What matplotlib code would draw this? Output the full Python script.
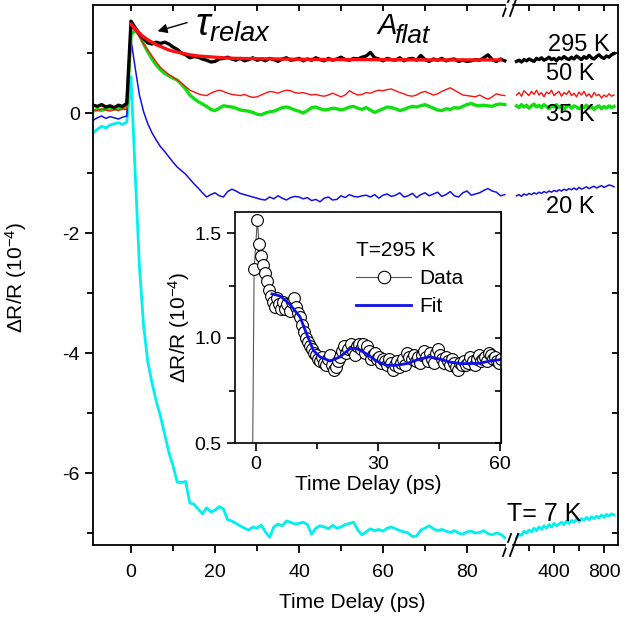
import numpy as np
import matplotlib
matplotlib.use("Agg")
import matplotlib.pyplot as plt
from matplotlib.lines import Line2D

plt.rcParams["font.family"] = ["Liberation Sans", "DejaVu Sans"]
plt.rcParams["mathtext.fontset"] = "custom"
plt.rcParams["mathtext.rm"] = "Liberation Sans"
plt.rcParams["mathtext.it"] = "Liberation Sans:italic"

# ---- main panel data (left segment, 1 ps steps from -9 to 89 ps) ----
t_left = np.arange(-9, 90)

k295 = [0.13, 0.11, 0.14, 0.10, 0.12, 0.09, 0.13, 0.11, 0.16,
        1.53, 1.42, 1.32, 1.24, 1.17, 1.15, 1.18, 1.16, 1.18, 1.15,
        1.10, 1.06, 1.00, 0.97, 0.92, 0.94, 0.93, 0.90, 0.88, 0.85,
        0.86, 0.90, 0.91, 0.93, 0.90, 0.88, 0.91, 0.87, 0.89, 0.92,
        0.88, 0.90, 0.87, 0.91, 0.89, 0.86, 0.90, 0.92, 0.88, 0.89,
        0.91, 0.87, 0.90, 0.88, 0.92, 0.89, 0.87, 0.91, 0.88, 0.90,
        0.93, 0.89, 0.88, 0.91, 0.90, 0.93, 0.95, 1.01, 0.92, 0.90,
        0.87, 0.91, 0.89, 0.88, 0.92, 0.87, 0.90, 0.91, 0.88, 0.96,
        0.89, 0.86, 0.90, 0.88, 0.91, 0.87, 0.89, 0.90, 0.86, 0.88,
        0.86, 0.87, 0.89, 0.88, 0.92, 0.97, 0.89, 0.86, 0.90, 0.87]

k50 = [0.06, 0.04, 0.07, 0.05, 0.03, 0.06, 0.04, 0.07, 0.05,
       1.42, 1.38, 1.27, 1.15, 1.05, 0.95, 0.85, 0.76, 0.70, 0.64,
       0.60, 0.55, 0.50, 0.44, 0.38, 0.35, 0.32, 0.30, 0.29, 0.33,
       0.36, 0.38, 0.36, 0.33, 0.31, 0.30, 0.29, 0.31, 0.28, 0.26,
       0.27, 0.30, 0.33, 0.36, 0.35, 0.33, 0.36, 0.38, 0.37, 0.34,
       0.33, 0.34, 0.32, 0.30, 0.31, 0.29, 0.28, 0.30, 0.33, 0.30,
       0.27, 0.30, 0.37, 0.33, 0.30, 0.31, 0.34, 0.33, 0.36, 0.38,
       0.37, 0.39, 0.40, 0.37, 0.34, 0.32, 0.29, 0.28, 0.30, 0.34,
       0.36, 0.33, 0.30, 0.32, 0.36, 0.39, 0.42, 0.38, 0.34, 0.30,
       0.29, 0.28, 0.27, 0.30, 0.26, 0.23, 0.27, 0.32, 0.30, 0.29]

k35 = [0.03, 0.06, 0.04, 0.07, 0.08, 0.06, 0.08, 0.07, 0.10,
       1.30, 1.38, 1.30, 1.15, 1.02, 0.90, 0.80, 0.72, 0.66, 0.62,
       0.58, 0.55, 0.48, 0.40, 0.30, 0.24, 0.19, 0.15, 0.11, 0.06,
       0.04, 0.08, 0.12, 0.11, 0.10, 0.08, 0.05, 0.04, 0.03, 0.01,
       -0.02, -0.03, 0.00, 0.02, 0.03, 0.06, 0.09, 0.10, 0.08, 0.05,
       0.03, 0.00, 0.04, 0.09, 0.10, 0.07, 0.05, 0.06, 0.08, 0.07,
       0.05, 0.07, 0.10, 0.11, 0.08, 0.06, 0.09, 0.05, 0.01, 0.04,
       0.07, 0.10, 0.09, 0.07, 0.04, 0.06, 0.09, 0.11, 0.10, 0.12,
       0.14, 0.11, 0.08, 0.05, 0.04, 0.07, 0.06, 0.09, 0.08, 0.11,
       0.14, 0.16, 0.13, 0.12, 0.13, 0.12, 0.11, 0.14, 0.15, 0.14]

k20 = [-0.12, -0.08, -0.05, -0.09, -0.06, -0.08, -0.10, -0.07, -0.05,
       1.22, 0.75, 0.30, 0.02, -0.18, -0.33, -0.45, -0.56, -0.64, -0.73,
       -0.82, -0.90, -0.96, -1.02, -1.10, -1.18, -1.25, -1.33, -1.40, -1.36,
       -1.33, -1.38, -1.40, -1.31, -1.27, -1.30, -1.34, -1.36, -1.38, -1.40,
       -1.42, -1.44, -1.45, -1.40, -1.43, -1.38, -1.42, -1.45, -1.41, -1.39,
       -1.40, -1.43, -1.41, -1.46, -1.44, -1.48, -1.42, -1.40, -1.45, -1.44,
       -1.38, -1.41, -1.36, -1.39, -1.40, -1.38, -1.37, -1.40, -1.36, -1.42,
       -1.37, -1.35, -1.39, -1.37, -1.33, -1.40, -1.38, -1.34, -1.41, -1.36,
       -1.33, -1.38, -1.35, -1.32, -1.39, -1.36, -1.31, -1.38, -1.40, -1.33,
       -1.30, -1.37, -1.35, -1.33, -1.29, -1.26, -1.30, -1.32, -1.38, -1.36]

k7 = [-0.33, -0.27, -0.22, -0.25, -0.20, -0.18, -0.16, -0.19, -0.15,
      0.60, -1.00, -2.55, -3.55, -4.15, -4.50, -4.80, -5.05, -5.35, -5.65,
      -5.88, -6.15, -6.16, -6.14, -6.50, -6.52, -6.60, -6.68, -6.58, -6.65,
      -6.62, -6.56, -6.60, -6.78, -6.80, -6.84, -6.88, -6.92, -6.95, -6.90,
      -6.92, -6.87, -6.98, -7.07, -6.90, -6.85, -6.88, -6.80, -6.82, -6.85,
      -6.84, -6.82, -6.86, -7.02, -6.92, -6.88, -6.90, -6.93, -6.87, -6.92,
      -6.90, -6.86, -6.84, -6.82, -6.95, -7.03, -6.98, -6.93, -6.96, -6.94,
      -6.97, -6.92, -6.90, -6.93, -6.96, -6.98, -7.00, -7.06, -7.05, -6.95,
      -6.92, -6.88, -6.93, -6.96, -6.94, -6.97, -6.99, -6.96, -7.00, -7.02,
      -6.98, -6.97, -7.00, -6.99, -6.96, -7.01, -7.03, -7.00, -7.02, -7.08]

# single exponential fit of the 295 K trace
t_fit = [0, 1, 2, 3, 4, 5, 6, 7, 8, 9, 10, 12, 14, 16, 18, 20, 22, 25, 30, 35, 40, 50, 60, 70, 80, 88]
fit295 = [1.48, 1.40, 1.33, 1.27, 1.22, 1.18, 1.14, 1.11, 1.08, 1.05, 1.03, 1.00, 0.97,
          0.95, 0.94, 0.93, 0.92, 0.91, 0.905, 0.90, 0.895, 0.89, 0.89, 0.885, 0.885, 0.885]

# ---- right segment (long delays), 20 ps steps ----
t_right = np.arange(100, 900, 20)
r295 = [0.86, 0.88, 0.85, 0.89, 0.87, 0.90, 0.88, 0.86, 0.91, 0.89, 0.92, 0.88, 0.90, 0.93,
        0.89, 0.91, 0.87, 0.92, 0.90, 0.94, 0.91, 0.89, 0.93, 0.90, 0.95, 0.92, 0.89, 0.94,
        0.91, 0.96, 0.92, 0.90, 0.94, 0.97, 0.93, 0.91, 0.95, 0.93, 0.97, 0.99]
r50 = [0.30, 0.34, 0.28, 0.37, 0.33, 0.29, 0.36, 0.31, 0.38, 0.30, 0.34, 0.27, 0.35, 0.32,
       0.38, 0.29, 0.33, 0.36, 0.28, 0.34, 0.31, 0.37, 0.29, 0.33, 0.27, 0.35, 0.30, 0.36,
       0.28, 0.32, 0.26, 0.34, 0.29, 0.31, 0.25, 0.30, 0.27, 0.32, 0.28, 0.30]
r35 = [0.12, 0.09, 0.14, 0.10, 0.13, 0.08, 0.12, 0.15, 0.10, 0.13, 0.09, 0.14, 0.11, 0.07,
       0.12, 0.10, 0.14, 0.09, 0.12, 0.06, 0.11, 0.13, 0.08, 0.12, 0.10, 0.07, 0.11, 0.09,
       0.13, 0.08, 0.11, 0.06, 0.10, 0.12, 0.07, 0.11, 0.08, 0.12, 0.09, 0.11]
r20 = [-1.38, -1.36, -1.39, -1.35, -1.37, -1.34, -1.36, -1.33, -1.35, -1.32, -1.34, -1.31,
       -1.33, -1.30, -1.32, -1.29, -1.31, -1.28, -1.30, -1.27, -1.29, -1.26, -1.28, -1.25,
       -1.28, -1.24, -1.27, -1.25, -1.23, -1.26, -1.24, -1.22, -1.25, -1.23, -1.21, -1.24,
       -1.22, -1.20, -1.21, -1.23]
r7 = [-7.08, -7.02, -7.04, -6.97, -7.00, -6.95, -6.98, -6.92, -6.96, -6.90, -6.94, -6.88,
      -6.92, -6.86, -6.90, -6.84, -6.88, -6.85, -6.82, -6.86, -6.80, -6.84, -6.79, -6.82,
      -6.77, -6.81, -6.76, -6.79, -6.74, -6.78, -6.73, -6.76, -6.72, -6.75, -6.70, -6.74,
      -6.69, -6.72, -6.68, -6.70]

# ---- inset: 295 K data and oscillation fit ----
t_ins = [-1.0, -0.5, 0.3, 0.7, 1.2, 1.7, 2.2, 2.7, 3.2, 3.7, 4.2, 4.7, 5.2, 5.7, 6.2, 6.7,
         7.2, 7.7, 8.2, 8.7, 9.2, 9.7, 10.2, 10.7, 11.2, 11.7, 12.2, 12.7, 13.2, 13.7, 14.2,
         14.7, 15.2, 15.7, 16.2, 16.7, 17.2, 17.7, 18.2, 18.7, 19.2, 19.7, 20.2, 20.7, 21.2,
         21.7, 22.2, 22.7, 23.2, 23.7, 24.2, 24.7, 25.2, 25.7, 26.2, 26.7, 27.2, 27.7, 28.2,
         28.7, 29.2, 29.7, 30.2, 30.7, 31.2, 31.7, 32.2, 32.7, 33.2, 33.7, 34.2, 34.7, 35.2,
         35.7, 36.2, 36.7, 37.2, 37.7, 38.2, 38.7, 39.2, 39.7, 40.2, 40.7, 41.2, 41.7, 42.2,
         42.7, 43.2, 43.7, 44.2, 44.7, 45.2, 45.7, 46.2, 46.7, 47.2, 47.7, 48.2, 48.7, 49.2,
         49.7, 50.2, 50.7, 51.2, 51.7, 52.2, 52.7, 53.2, 53.7, 54.2, 54.7, 55.2, 55.7, 56.2,
         56.7, 57.2, 57.7, 58.2, 58.7, 59.2, 59.7, 60.2]
d_ins = [0.12, 1.33, 1.56, 1.45, 1.39, 1.35, 1.31, 1.27, 1.23, 1.20, 1.17, 1.15, 1.19, 1.16,
         1.14, 1.17, 1.14, 1.16, 1.13, 1.17, 1.19, 1.15, 1.12, 1.10, 1.06, 1.03, 1.00, 0.98,
         0.96, 0.95, 0.93, 0.92, 0.90, 0.89, 0.91, 0.88, 0.87, 0.90, 0.92, 0.87, 0.85, 0.86,
         0.89, 0.91, 0.94, 0.96, 0.93, 0.95, 0.97, 0.94, 0.92, 0.96, 0.97, 0.95, 0.97, 0.93,
         0.96, 0.94, 0.90, 0.92, 0.93, 0.90, 0.91, 0.88, 0.90, 0.89, 0.87, 0.90, 0.88, 0.85,
         0.87, 0.89, 0.86, 0.88, 0.90, 0.87, 0.93, 0.91, 0.90, 0.92, 0.89, 0.91, 0.88, 0.92,
         0.94, 0.91, 0.89, 0.93, 0.90, 0.88, 0.93, 0.95, 0.92, 0.90, 0.88, 0.91, 0.89, 0.87,
         0.90, 0.88, 0.86, 0.85, 0.88, 0.87, 0.89, 0.87, 0.88, 0.91, 0.89, 0.87, 0.90, 0.92,
         0.89, 0.90, 0.91, 0.89, 0.93, 0.92, 0.90, 0.91, 0.89, 0.88, 0.90]
t_osc = [3.9, 5.9, 8.3, 10.8, 12.4, 14.1, 15.7, 18.2, 20.6, 23.1, 24.7, 27.1, 29.6, 32.1,
         34.5, 37.0, 40.2, 42.7, 45.1, 47.6, 50.0, 52.5, 55.0, 57.4, 59.9]
f_osc = [1.21, 1.20, 1.16, 1.10, 1.02, 0.94, 0.91, 0.89, 0.91, 0.95, 0.95, 0.925, 0.89, 0.87,
         0.87, 0.878, 0.90, 0.91, 0.90, 0.886, 0.878, 0.878, 0.88, 0.89, 0.897]

W, H = 639, 620
fig = plt.figure(figsize=(W / 100, H / 100), dpi=100)


def px(x0, y0, x1, y1):
    return [x0 / W, 1 - y1 / H, (x1 - x0) / W, (y1 - y0) / H]


ax1 = fig.add_axes(px(93, 5, 509, 545))
ax2 = fig.add_axes(px(509, 5, 618, 545))
YLIM = (-7.2, 1.8)

curves = [(k7, r7, "#00f0f0", 2.0), (k20, r20, "#1010e8", 1.1),
          (k35, r35, "#10e010", 2.4), (k50, r50, "#ff1010", 1.0),
          (k295, r295, "black", 2.4)]
for yl, yr, c, lw in curves:
    ax1.plot(t_left, yl, color=c, lw=lw)
    ax2.plot(t_right, yr, color=c, lw=lw)
ax1.plot(t_fit, fit295, color="#ff1010", lw=2.4)

for ax in (ax1, ax2):
    ax.set_ylim(*YLIM)
    for s in ax.spines.values():
        s.set_linewidth(1.3)
ax1.set_xlim(-9.05, 90)
ax2.set_xlim(40, 912)
ax1.spines["right"].set_visible(False)
ax2.spines["left"].set_visible(False)

ax1.set_xticks([0, 20, 40, 60, 80])
ax1.set_xticks([10, 30, 50, 70], minor=True)
ax1.set_yticks([-6, -4, -2, 0])
ax1.set_yticklabels(["-6", "-4", "-2", "0"])
ax1.set_yticks([-7, -5, -3, -1, 1], minor=True)
ax1.tick_params(which="both", direction="out", labelsize=14, width=1.3, top=False, right=False)
ax1.tick_params(which="major", length=6)
ax1.tick_params(which="minor", length=4)
ax1.tick_params(axis="x", pad=8)

ax2.set_xticks([400, 800])
ax2.set_xticks([200, 600], minor=True)
ax2.set_yticks([-7, -6, -5, -4, -3, -2, -1, 0, 1])
ax2.tick_params(axis="x", which="both", direction="out", labelsize=14, width=1.3, pad=8)
ax2.tick_params(axis="x", which="major", length=6)
ax2.tick_params(axis="x", which="minor", length=4)
ax2.tick_params(axis="y", left=False, right=True, labelleft=False, direction="in", length=4, width=1.3)

for ax, maj, mnr in ((ax1, [0, 20, 40, 60, 80], [10, 30, 50, 70]), (ax2, [400, 800], [200, 600])):
    sec = ax.secondary_xaxis("top")
    sec.set_xticks(maj)
    sec.set_xticks(mnr, minor=True)
    sec.tick_params(which="both", direction="in", labeltop=False, length=4, width=1.3)
    sec.spines["top"].set_visible(False)

# axis break marks
for yb in (5, 545):
    for dx in (0, 7):
        fig.add_artist(Line2D([(503 + dx) / W, (511 + dx) / W], [1 - (yb + 11) / H, 1 - (yb - 11) / H],
                              color="black", lw=1.3))
    fig.add_artist(plt.Rectangle(((506) / W, 1 - (yb + 2) / H), 5 / W, 4 / H,
                                 transform=fig.transFigure, color="white", zorder=5))

fig.text(16 / W, 1 - 278 / H, r"$\Delta$R/R (10$^{-4}$)", rotation=90, ha="center", va="center", fontsize=15)
fig.text(352 / W, 1 - 603 / H, "Time Delay (ps)", ha="center", va="center", fontsize=15)

ax1.annotate("", xy=(5.7, 1.35), xytext=(14.0, 1.52),
             arrowprops=dict(arrowstyle="-|>", color="black", lw=1.0, mutation_scale=14))
ax1.text(15.3, 1.45, r"$\tau_{relax}$", fontsize=28, ha="left", va="center")
fig.text(377 / W, 1 - 34 / H, "A", fontsize=21, style="italic", ha="left", va="baseline")
fig.text(394 / W, 1 - 43 / H, "flat", fontsize=19, style="italic", ha="left", va="baseline")

lab_kw = dict(fontsize=17, ha="right", va="center", transform=fig.transFigure)
fig.text(610 / W, 1 - 45 / H, "295 K", **lab_kw)
fig.text(594 / W, 1 - 74 / H, "50 K", **lab_kw)
fig.text(594 / W, 1 - 115 / H, "35 K", **lab_kw)
fig.text(594 / W, 1 - 207 / H, "20 K", **lab_kw)
fig.text(581 / W, 1 - 514 / H, "T= 7 K", fontsize=18, ha="right", va="center")

# ---- inset ----
axi = fig.add_axes(px(235, 212, 501, 443))
axi.set_facecolor("white")
axi.plot(t_ins, d_ins, color="#555555", lw=0.8, marker="o", ms=8.5, mfc="white", mec="black", mew=0.8)
axi.plot(t_osc, f_osc, color="#1010e8", lw=2.0)
axi.set_xlim(-5.2, 60.2)
axi.set_ylim(0.5, 1.6)
axi.set_xticks([0, 30, 60])
axi.set_xticks([15, 45], minor=True)
axi.set_yticks([0.5, 1.0, 1.5])
axi.set_yticks([0.75, 1.25], minor=True)
axi.tick_params(which="both", direction="out", labelsize=14, width=1.2, top=False, right=False)
axi.tick_params(which="major", length=6)
axi.tick_params(which="minor", length=4)
for s in axi.spines.values():
    s.set_linewidth(1.2)
seci = axi.secondary_yaxis("right")
seci.set_yticks([0.5, 0.75, 1.0, 1.25, 1.5])
seci.tick_params(direction="in", labelright=False, length=4, width=1.2)
axi.set_xlabel("Time Delay (ps)", fontsize=15, labelpad=1)
axi.set_ylabel(r"$\Delta$R/R (10$^{-4}$)", fontsize=15, labelpad=2)
handles = [Line2D([], [], color="#555555", lw=0.8, marker="o", ms=9, mfc="white", mec="black", mew=0.8),
           Line2D([], [], color="#1010e8", lw=2.0)]
leg = axi.legend(handles, ["Data", "Fit"], title="T=295 K", loc="upper right", bbox_to_anchor=(0.905, 0.93),
                 frameon=False, fontsize=15, title_fontsize=15, handlelength=2.6,
                 handletextpad=0.4, labelspacing=0.45, borderaxespad=0.2)
leg._legend_box.align = "left"

fig.savefig("out.png", dpi=100)
